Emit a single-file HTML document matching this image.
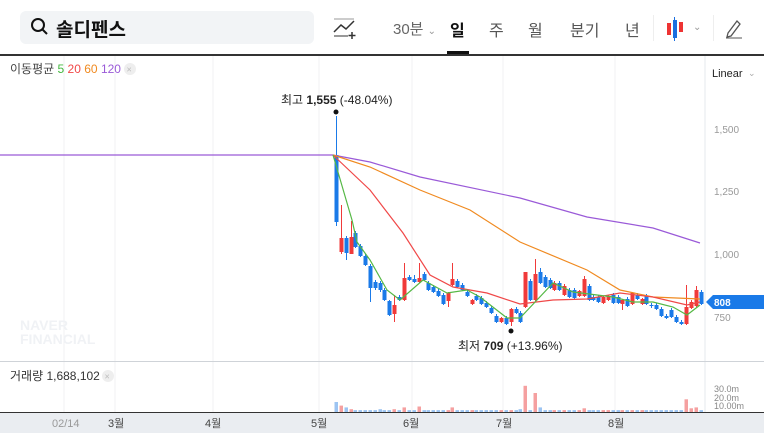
<!DOCTYPE html><html><head><meta charset="utf-8"><style>
body{margin:0;width:764px;height:433px;background:#fff;overflow:hidden;font-family:"Liberation Sans","Noto Sans CJK KR",sans-serif;position:relative}
.a{position:absolute;white-space:nowrap}
</style></head><body>
<div class="a" style="left:20px;top:11px;width:294px;height:33px;background:#f2f4f6;border-radius:6px"></div>
<svg class="a" style="left:30px;top:17px" width="20" height="20"><circle cx="8" cy="8" r="6" fill="none" stroke="#111" stroke-width="2"/><line x1="12.5" y1="12.5" x2="17" y2="17" stroke="#111" stroke-width="2"/></svg>
<div class="a" style="left:56px;top:15px;font-size:19px;font-weight:bold;color:#111">솔디펜스</div>
<svg class="a" style="left:332px;top:16px" width="28" height="24"><path d="M2 16 L9 9 L14 13 L22 5" fill="none" stroke="#333" stroke-width="1.5"/><line x1="2" y1="20" x2="16" y2="20" stroke="#333"/><path d="M20 16v7M16.5 19.5h7" stroke="#333" stroke-width="1.5"/><line x1="2" y1="3" x2="22" y2="3" stroke="#999"/></svg>
<div class="a" style="left:393px;top:18px;font-size:15px;color:#666">30분 <span style="font-size:10px;color:#999">⌄</span></div>
<div class="a" style="left:450px;top:17px;font-size:16px;font-weight:bold;color:#111">일</div>
<div class="a" style="left:447px;top:51px;width:22px;height:4px;background:#111"></div>
<div class="a" style="left:489px;top:17px;font-size:16px;color:#555">주</div>
<div class="a" style="left:528px;top:17px;font-size:16px;color:#555">월</div>
<div class="a" style="left:570px;top:17px;font-size:16px;color:#555">분기</div>
<div class="a" style="left:625px;top:17px;font-size:16px;color:#555">년</div>
<div class="a" style="left:653px;top:15px;width:1px;height:26px;background:#eee"></div>
<svg class="a" style="left:666px;top:15px" width="40" height="28"><rect x="1" y="8" width="4" height="12" fill="#e33"/><line x1="8.5" y1="2" x2="8.5" y2="26" stroke="#1a6fe0"/><rect x="7" y="5" width="4" height="18" fill="#1a6fe0"/><rect x="13" y="7" width="4" height="10" fill="#e33"/><text x="27" y="15" font-size="10" fill="#999">⌄</text></svg>
<div class="a" style="left:713px;top:15px;width:1px;height:26px;background:#eee"></div>
<svg class="a" style="left:724px;top:17px" width="20" height="22"><path d="M4 16 L13 4 L16 7 L7 19 L3 20Z" fill="none" stroke="#555" stroke-width="1.3"/><line x1="2" y1="21" x2="18" y2="21" stroke="#555"/></svg>
<div class="a" style="left:0;top:54px;width:764px;height:2px;background:#333"></div>
<svg class="a" style="left:0;top:0" width="764" height="433" font-family="Liberation Sans, Noto Sans CJK KR, sans-serif">
<g stroke="#f1f1f3"><line x1="64" y1="56" x2="64" y2="413"/><line x1="115" y1="56" x2="115" y2="413"/><line x1="213" y1="56" x2="213" y2="413"/><line x1="319" y1="56" x2="319" y2="413"/><line x1="412" y1="56" x2="412" y2="413"/><line x1="503" y1="56" x2="503" y2="413"/><line x1="615" y1="56" x2="615" y2="413"/></g>
<line x1="705" y1="56" x2="705" y2="413" stroke="#e6e8ec"/>
<line x1="0" y1="361.5" x2="764" y2="361.5" stroke="#cfd3d8"/>
<g font-size="10" fill="#999"><text x="714" y="133">1,500</text><text x="714" y="195">1,250</text><text x="714" y="258">1,000</text><text x="714" y="321">750</text></g>
<path d="M706 302 L713 295 L764 295 L764 309 L713 309Z" fill="#1a7ae8"/><text x="714" y="306" font-size="10" fill="#fff" font-weight="bold">808</text>
<text x="712" y="77" font-size="11" fill="#222">Linear</text><text x="748" y="76" font-size="9" fill="#aaa">⌄</text>
<text x="10" y="73" font-size="12" fill="#444">이동평균 <tspan fill="#44b840">5</tspan> <tspan fill="#f04848">20</tspan> <tspan fill="#f08a20">60</tspan> <tspan fill="#9a5ad8">120</tspan></text>
<circle cx="130" cy="69" r="6" fill="#eee"/><text x="126.5" y="72.5" font-size="9" fill="#bbb">×</text>
<text x="10" y="380" font-size="12" fill="#333">거래량 1,688,102</text>
<circle cx="108" cy="376" r="6" fill="#eee"/><text x="104.5" y="379.5" font-size="9" fill="#bbb">×</text>
<text x="20" y="330" font-size="14" font-weight="bold" fill="#f0f2f5">NAVER</text>
<text x="20" y="344" font-size="14" font-weight="bold" fill="#f0f2f5">FINANCIAL</text>
<g id="c"></g>
<polyline fill="none" stroke="#9a5ad8" stroke-width="1.2" points="0,155 333,155 370,162 420,177 520,198 587,217 653,228 700,243"/>
<polyline fill="none" stroke="#f08a20" stroke-width="1.2" points="333,155 370,167 420,190 470,210 520,242 587,270 620,290 653,297 700,299"/>
<polyline fill="none" stroke="#f04848" stroke-width="1.2" points="333,155 370,190 403,233 430,275 453,287 487,293 520,304 553,300 587,299 620,293 653,297 687,305 700,302"/>
<polyline fill="none" stroke="#55b845" stroke-width="1.2" points="333,155 352,220 357,242 370,260 387,290 400,300 423,280 447,293 467,290 480,297 507,318 520,318 537,300 553,283 573,292 613,297 633,302 653,302 673,307 687,315 700,305"/>
<circle cx="336" cy="112" r="2.5" fill="#111"/><circle cx="511" cy="331" r="2.5" fill="#111"/>
<text x="281" y="104" font-size="12" fill="#222">최고 <tspan font-weight="bold">1,555</tspan> (-48.04%)</text>
<text x="458" y="350" font-size="12" fill="#222">최저 <tspan font-weight="bold">709</tspan> (+13.96%)</text>
<g id="v"></g>
<g font-size="9" fill="#888"><text x="714" y="392">30.0m</text><text x="714" y="401">20.0m</text><text x="714" y="409">10.00m</text></g>
<rect x="0" y="413" width="764" height="20" fill="#eaedf1"/>
<line x1="0" y1="412.5" x2="764" y2="412.5" stroke="#333"/>
<g font-size="11" fill="#444"><text x="52" y="427" fill="#999">02/14</text><text x="108" y="427">3월</text><text x="205" y="427">4월</text><text x="311" y="427">5월</text><text x="403" y="427">6월</text><text x="496" y="427">7월</text><text x="608" y="427">8월</text></g>
</svg>
<script>
var d=[[336,'b',155,222,116,226],[341,'r',238,252,205,254],[346,'b',238,253,236,260],[351,'r',237,254,221,254],[355,'b',233,247,231,248],[360,'b',246,256,244,257],[365,'b',256,265,254,266],[370,'b',266,288,264,302],[375,'b',282,288,280,290],[380,'b',283,290,281,292],[384,'b',290,300,288,301],[389,'b',301,315,300,316],[394,'r',305,314,295,322],[399,'b',297,300,295,301],[404,'r',278,300,263,301],[409,'b',277,280,275,281],[414,'b',279,282,275,283],[419,'r',278,282,263,283],[424,'b',274,280,272,281],[428,'b',283,290,281,291],[433,'b',287,292,285,293],[438,'b',291,296,289,297],[443,'b',295,304,293,305],[448,'r',293,301,292,307],[452,'r',279,285,263,286],[457,'b',281,287,279,288],[462,'b',285,290,283,291],[467,'b',292,296,290,297],[472,'r',300,304,299,305],[476,'b',296,300,294,301],[481,'b',298,304,296,305],[486,'b',303,307,301,308],[491,'b',308,313,306,314],[496,'b',316,322,314,323],[501,'r',318,322,317,323],[506,'b',318,324,316,325],[511,'r',309,322,308,326],[516,'b',309,313,307,314],[520,'b',313,322,311,323],[525,'r',272,307,272,308],[530,'b',281,300,279,301],[535,'r',274,300,259,301],[540,'b',272,283,268,284],[545,'b',277,287,275,288],[550,'b',280,288,278,289],[554,'r',283,290,281,291],[559,'b',283,290,281,291],[564,'r',286,295,284,296],[569,'b',290,297,288,298],[574,'b',290,298,288,299],[579,'r',291,296,290,297],[584,'r',279,296,276,297],[589,'b',286,300,284,301],[593,'b',297,300,295,301],[598,'b',297,302,295,303],[603,'r',297,303,296,304],[608,'r',296,300,295,301],[613,'b',295,303,293,304],[618,'b',297,303,295,304],[622,'r',300,304,299,310],[627,'b',299,306,297,307],[632,'r',293,304,292,305],[637,'b',295,299,293,300],[642,'r',299,304,298,305],[646,'b',296,304,294,305],[651,'b',305,306,303,308],[656,'b',305,309,303,310],[661,'b',309,316,307,317],[666,'b',316,318,314,319],[671,'b',310,317,308,318],[676,'b',317,322,315,323],[681,'b',322,324,320,325],[686,'r',307,324,285,325],[691,'r',302,308,300,309],[696,'r',290,306,286,307],[701,'b',292,304,290,305]];
var s='',v='',vol={336:10,341:6,346:4,351:2,380:2,394:2,404:4,419:5,452:4,520:2,525:28,535:20,540:4,584:3,686:13,691:3,696:4};
d.forEach(function(c){var col=c[1]=='r'?'#f03a3a':'#1a7ae8';s+='<line x1="'+(c[0]+.5)+'" y1="'+c[4]+'" x2="'+(c[0]+.5)+'" y2="'+c[5]+'" stroke="'+col+'"/><rect x="'+(c[0]-1.5)+'" y="'+c[2]+'" width="4" height="'+Math.max(1,c[3]-c[2])+'" fill="'+col+'"/>';
var h=(vol[c[0]]||1)*0.9+1;v+='<rect x="'+(c[0]-1.5)+'" y="'+(412-h)+'" width="3.5" height="'+h+'" fill="'+(c[1]=='r'?'#f5a0a0':'#9cc4f2')+'"/>';});
document.getElementById('c').innerHTML=s;document.getElementById('v').innerHTML=v;
</script>
</body></html>
